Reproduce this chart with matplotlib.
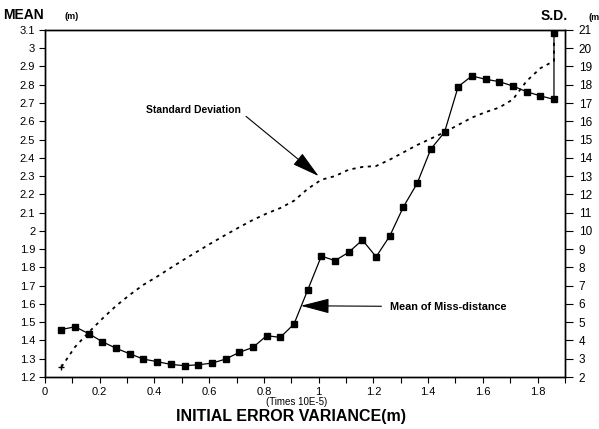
import matplotlib
matplotlib.use("Agg")
import matplotlib.pyplot as plt
from matplotlib.ticker import MultipleLocator

# initial error variance (times 10E-5)
variance = [0.06, 0.11, 0.16, 0.21, 0.26, 0.31, 0.36, 0.41, 0.46, 0.51,
            0.56, 0.61, 0.66, 0.71, 0.76, 0.81, 0.86, 0.91, 0.96, 1.01,
            1.06, 1.11, 1.16, 1.21, 1.26, 1.31, 1.36, 1.41, 1.46, 1.51,
            1.56, 1.61, 1.66, 1.71, 1.76, 1.81, 1.86, 1.86]
# mean of miss-distance (m)
mean_miss = [1.46, 1.475, 1.437, 1.393, 1.357, 1.327, 1.298, 1.284, 1.269, 1.262,
             1.267, 1.276, 1.298, 1.335, 1.362, 1.426, 1.417, 1.49, 1.676, 1.862,
             1.837, 1.883, 1.95, 1.858, 1.972, 2.132, 2.26, 2.448, 2.54, 2.79,
             2.848, 2.83, 2.817, 2.793, 2.762, 2.739, 2.72, 3.082]
# standard deviation (m)
std_dev = [2.55, 3.65, 4.45, 5.2, 5.9, 6.5, 7.05, 7.5, 7.98, 8.45,
           8.9, 9.35, 9.78, 10.2, 10.6, 10.95, 11.25, 11.65, 12.3, 12.8,
           13.0, 13.35, 13.5, 13.55, 13.9, 14.3, 14.7, 15.05, 15.4, 15.8,
           16.2, 16.5, 16.75, 17.2, 18.2, 18.9, 19.3, 20.3]

x_ticks = [0, 0.2, 0.4, 0.6, 0.8, 1.0, 1.2, 1.4, 1.6, 1.8]
x_ticklabels = ["0", "0.2", "0.4", "0.6", "0.8", "1", "1.2", "1.4", "1.6", "1.8"]

plt.rcParams['font.family'] = ['Liberation Sans', 'DejaVu Sans']

fig = plt.figure(figsize=(5.99, 4.29), dpi=100)
ax = fig.add_axes([0.0751, 0.1212, 0.868, 0.809])
ax2 = ax.twinx()

# mean curve on the left axis
ax.plot(variance, mean_miss, color="black", linewidth=0.9, marker="s",
        markersize=5, markerfacecolor="black", zorder=3)
ax.set_xlim(0, 1.9)
ax.set_ylim(1.2, 3.1)
ax.yaxis.set_major_locator(MultipleLocator(0.1))
ax.yaxis.set_major_formatter(plt.FuncFormatter(lambda v, p: f"{v:g}"))
ax.set_xticks(x_ticks)
ax.set_xticklabels(x_ticklabels)
ax.xaxis.set_minor_locator(MultipleLocator(0.1))
ax.tick_params(axis="both", which="both", direction="out", length=4,
               width=0.8, labelsize=8, pad=3)

# standard deviation on the right axis
ax2.plot(variance, std_dev, color="black", linewidth=1.3,
         linestyle=(0, (1.8, 2.5)))
ax2.plot(variance[:1], std_dev[:1], color="black", marker="+",
         markersize=5, linestyle="none")
ax2.set_ylim(2, 21)
ax2.yaxis.set_major_locator(MultipleLocator(1))
ax2.tick_params(axis="y", direction="out", length=6, width=0.8,
                labelsize=8.5, pad=4)

for a in (ax, ax2):
    for s in a.spines.values():
        s.set_linewidth(1.0)

# annotations
arrow = dict(arrowstyle="-|>,head_length=2.3,head_width=0.6",
             color="black", lw=0.8, shrinkA=2, shrinkB=0)
ax2.annotate("Standard Deviation", xy=(1.0, 13.0), xytext=(0.37, 16.6),
             fontsize=7.5, fontweight="bold", ha="left", va="center",
             arrowprops=dict(arrow, relpos=(1.0, 0.3)))
ax.annotate("Mean of Miss-distance", xy=(0.935, 1.59), xytext=(1.26, 1.585),
            fontsize=7.8, fontweight="bold", ha="left", va="center",
            arrowprops=dict(arrow, shrinkA=4))

# axis titles
fig.text(0.005, 0.965, "MEAN", fontsize=10, fontweight="bold", va="center")
fig.text(0.108, 0.962, "(m)", fontsize=6.5, fontweight="bold", va="center")
fig.text(0.903, 0.963, "S.D.", fontsize=10, fontweight="bold", va="center")
fig.text(0.982, 0.96, "(m", fontsize=6.5, fontweight="bold", va="center")
fig.text(0.495, 0.0625, "(Times 10E-5)", fontsize=7, ha="center", va="center")
fig.text(0.485, 0.028, "INITIAL ERROR VARIANCE(m)", fontsize=11.5,
         fontweight="bold", ha="center", va="center")

fig.savefig("out.png", dpi=100)
